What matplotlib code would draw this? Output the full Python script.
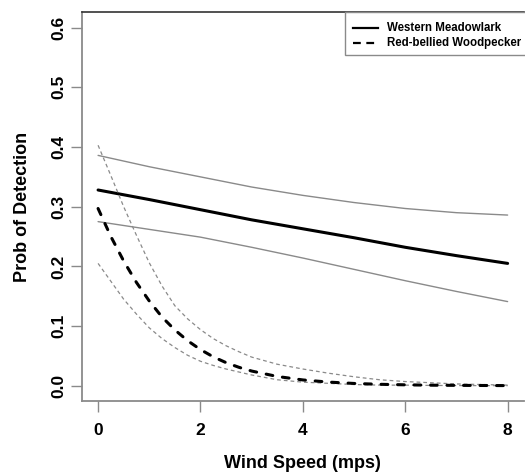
import matplotlib
matplotlib.use("Agg")
import matplotlib.pyplot as plt
from matplotlib.lines import Line2D
from matplotlib.patches import Rectangle

plt.rcParams['font.family'] = ['Liberation Sans', 'DejaVu Sans']

# Western Meadowlark (solid)
wm_x = [0, 1, 2, 3, 4, 5, 6, 7, 8]
wm_mean = [0.328, 0.312, 0.295, 0.278, 0.263, 0.248, 0.232, 0.218, 0.205]
wm_upper = [0.386, 0.367, 0.350, 0.333, 0.319, 0.307, 0.297, 0.290, 0.286]
wm_lower = [0.275, 0.262, 0.249, 0.232, 0.214, 0.195, 0.176, 0.158, 0.141]

# Red-bellied Woodpecker (dashed)
rw_x = [0, 0.25, 0.5, 0.75, 1.0, 1.25, 1.5, 1.75, 2.0, 2.25, 2.5, 2.75, 3.0,
        3.5, 4.0, 4.5, 5.0, 5.5, 6.0, 6.5, 7.0, 7.5, 8.0]
rw_mean = [0.297, 0.250, 0.209, 0.173, 0.142, 0.115, 0.0935, 0.0754, 0.0606,
           0.0484, 0.0387, 0.0309, 0.0246, 0.0155, 0.0097, 0.0061, 0.0038,
           0.0024, 0.0015, 0.0009, 0.0006, 0.0004, 0.0002]
rw_upper = [0.403, 0.352, 0.300, 0.252, 0.206, 0.167, 0.134, 0.112, 0.094,
            0.079, 0.067, 0.057, 0.048, 0.036, 0.028, 0.021, 0.015,
            0.010, 0.007, 0.005, 0.003, 0.002, 0.001]
rw_lower = [0.205, 0.175, 0.145, 0.120, 0.097, 0.079, 0.064, 0.051, 0.041,
            0.034, 0.028, 0.023, 0.018, 0.010, 0.006, 0.004, 0.002,
            0.001, 0.001, 0.0005, 0.0003, 0.0002, 0.0001]

x_ticks = [0, 2, 4, 6, 8]
y_ticks = [0.0, 0.1, 0.2, 0.3, 0.4, 0.5, 0.6]
legend_labels = ["Western Meadowlark", "Red-bellied Woodpecker"]

W, H = 525, 473
fig = plt.figure(figsize=(W / 100, H / 100), dpi=100)
ax = fig.add_axes([81.7/W, 1 - 401/H, (524 - 81.7)/W, (401 - 12.3)/H])

gray = '#8a8a8a'
ax.plot(wm_x, wm_upper, color=gray, lw=1.0, solid_capstyle='round')
ax.plot(wm_x, wm_lower, color=gray, lw=1.0, solid_capstyle='round')
ax.plot(wm_x, wm_mean, color='black', lw=2.2, solid_capstyle='round')

ax.plot(rw_x, rw_upper, color=gray, lw=0.9, dashes=(3, 2.4))
ax.plot(rw_x, rw_lower, color=gray, lw=0.9, dashes=(3, 2.4))
ax.plot(rw_x, rw_mean, color='black', lw=2.2, dashes=(2.2, 3.2), dash_capstyle='round')

ax.set_xlim(-0.32, 8.32)
ax.set_ylim(-0.0256, 0.6258)
ax.set_xticks(x_ticks)
ax.set_xticklabels([str(v) for v in x_ticks])
ax.set_yticks(y_ticks)
ax.set_yticklabels([f"{v:.1f}" for v in y_ticks], rotation=90, va='center')

for s in ['left', 'bottom']:
    ax.spines[s].set_color(gray)
    ax.spines[s].set_linewidth(1.3)
ax.spines['top'].set_color('#333333')
ax.spines['top'].set_linewidth(1.2)
ax.spines['right'].set_visible(False)

ax.tick_params(axis='both', direction='out', length=8, width=1.0, color=gray,
               labelsize=12.5)
ax.tick_params(axis='x', pad=8)
ax.tick_params(axis='y', pad=3)
for lab in ax.get_xticklabels() + ax.get_yticklabels():
    lab.set_fontweight('bold')

ax.set_xlabel("Wind Speed (mps)", fontsize=13, fontweight='bold', labelpad=12)
ax.set_ylabel("Prob of Detection", fontsize=13, fontweight='bold', labelpad=15)

# legend drawn by hand, figure pixel coordinates
fig.add_artist(Rectangle((345/W, 1 - 55/H), (560 - 345)/W, (55 - 12.3)/H,
                         transform=fig.transFigure, facecolor='white',
                         edgecolor=gray, linewidth=1.0, zorder=5))
rows_y = [28.3, 43.3]
styles = [dict(), dict(dashes=(3.5, 2.5))]
for yy, lab, st in zip(rows_y, legend_labels, styles):
    fig.add_artist(Line2D([353/W, 378/W], [1 - yy/H, 1 - yy/H],
                          transform=fig.transFigure, color='black', lw=1.6,
                          zorder=6, **st))
    fig.text(386.7/W, 1 - yy/H, lab, fontsize=8.3, fontweight='bold',
             va='center', ha='left', zorder=6)

fig.savefig("out.png", dpi=100)
